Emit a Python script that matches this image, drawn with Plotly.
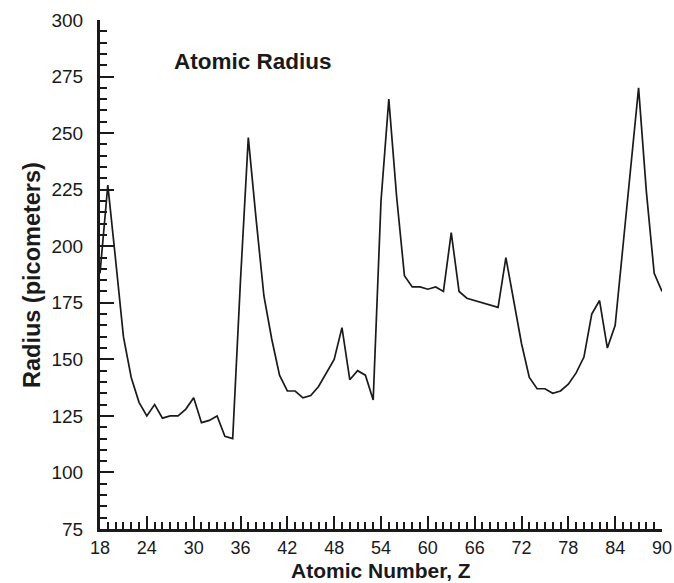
import plotly.graph_objects as go

atomic_number = list(range(18, 91))
radius_pm = [
    188, 227, 194, 160, 142, 131, 125, 130, 124, 125,   # 18-27
    125, 128, 133, 122, 123, 125, 116, 115, 185, 248,   # 28-37
    212, 178, 159, 143, 136, 136, 133, 134, 138, 144,   # 38-47
    150, 164, 141, 145, 143, 132, 220, 265, 222, 187,   # 48-57
    182, 182, 181, 182, 180, 206, 180, 177, 176, 175,   # 58-67
    174, 173, 195, 176, 157, 142, 137, 137, 135, 136,   # 68-77
    139, 144, 151, 170, 176, 155, 165, 200, 235, 270,   # 78-87
    224, 188, 180,                                      # 88-90
]

x_ticks = [18, 24, 30, 36, 42, 48, 54, 60, 66, 72, 78, 84, 90]
y_ticks = [75, 100, 125, 150, 175, 200, 225, 250, 275, 300]

font_family = "Arial, Liberation Sans, sans-serif"
ink = "#1a1a1a"

fig = go.Figure()
fig.add_trace(go.Scatter(
    x=atomic_number, y=radius_pm, mode="lines",
    line=dict(color=ink, width=1.7),
    showlegend=False, hoverinfo="x+y",
))

fig.add_annotation(
    x=27.2, y=281.5, xref="x", yref="y", text="<b>Atomic Radius</b>",
    showarrow=False, xanchor="left", yanchor="middle",
    font=dict(family=font_family, size=22.5, color=ink),
)
# axis titles
fig.add_annotation(
    x=0.5, y=-0.082, xref="paper", yref="paper", text="<b>Atomic Number, Z</b>",
    showarrow=False, xanchor="center", yanchor="middle",
    font=dict(family=font_family, size=21, color=ink),
)
fig.add_annotation(
    x=-0.121, y=0.499, xref="paper", yref="paper", text="<b>Radius (picometers)</b>",
    showarrow=False, xanchor="center", yanchor="middle", textangle=-90,
    font=dict(family=font_family, size=23.5, color=ink),
)

fig.update_layout(
    width=674, height=583,
    margin=dict(l=100, r=12, t=20, b=54),
    paper_bgcolor="white", plot_bgcolor="white",
    font=dict(family=font_family, color=ink),
    xaxis=dict(
        range=[18, 90], tickmode="array", tickvals=x_ticks,
        ticktext=[str(v) for v in x_ticks],
        ticks="inside", ticklen=13, tickwidth=2, tickcolor=ink,
        minor=dict(dtick=1, tick0=18, ticks="inside", ticklen=7, tickwidth=1.5, tickcolor=ink),
        showline=True, linecolor=ink, linewidth=2.5,
        showgrid=False, zeroline=False, automargin=False,
        tickfont=dict(size=18, color=ink),
        ticklabelstandoff=1,
    ),
    yaxis=dict(
        range=[75, 300], tickmode="array", tickvals=y_ticks,
        ticktext=[str(v) for v in y_ticks],
        ticks="inside", ticklen=14, tickwidth=2, tickcolor=ink,
        minor=dict(dtick=5, tick0=75, ticks="inside", ticklen=7, tickwidth=1.5, tickcolor=ink),
        showline=True, linecolor=ink, linewidth=3,
        showgrid=False, zeroline=False, automargin=False,
        tickfont=dict(size=19, color=ink),
        ticklabelstandoff=10,
    ),
)

fig.write_html("out.html")
